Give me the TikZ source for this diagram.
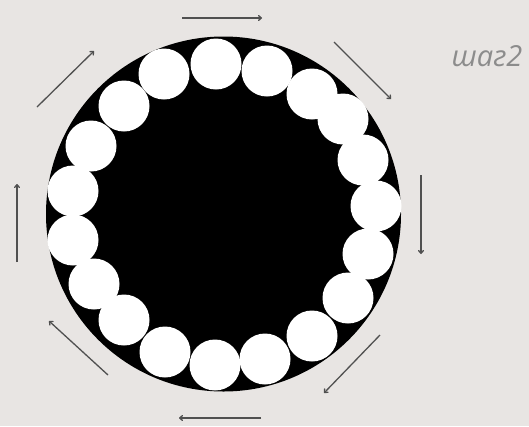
\documentclass[tikz,border=0pt]{standalone}
\usepackage{fontspec}
\setmainfont{Open Sans}
\usepackage{tikz}
\usetikzlibrary{arrows.meta}
\definecolor{paper}{HTML}{E8E5E3}
\definecolor{ink}{HTML}{000000}
\definecolor{arrowgray}{HTML}{505050}
\definecolor{labelgray}{HTML}{8C8C8C}

\begin{document}
\begin{tikzpicture}[x=1pt,y=-1pt,
  turn/.style={draw=arrowgray,line width=1.3pt,-{To[length=4pt,width=6pt]}}]
  \fill[paper] (0,0) rectangle (529,426);
  \useasboundingbox (0,0) rectangle (529,426);

  % drum
  \fill[ink] (223.5,214) circle[radius=177.5];
  \foreach \px/\py in {216/64, 267/71, 312/94, 343/119, 363/160, 376/206, 368/254,
      348/298, 312/336, 265/359, 215/365, 165/352, 124/320, 94/284, 73/240,
      73/191, 91/146, 124/106, 164/74}
    \fill[white] (\px,\py) circle[radius=25.5];

  % direction of rotation
  \draw[turn] (182,18) -- (262,18);
  \draw[turn] (334,42) -- (391,99);
  \draw[turn] (421,175) -- (421,254);
  \draw[turn] (380,335) -- (324,393);
  \draw[turn] (261,418) -- (179,418);
  \draw[turn] (108,375) -- (49,321);
  \draw[turn] (17,262) -- (17,184);
  \draw[turn] (37,107) -- (94,51);

  \node[font=\itshape\fontsize{29}{29}\selectfont,color=labelgray,inner sep=0pt] (steplabel) at (487,56) {шаг2};
\end{tikzpicture}
\end{document}
